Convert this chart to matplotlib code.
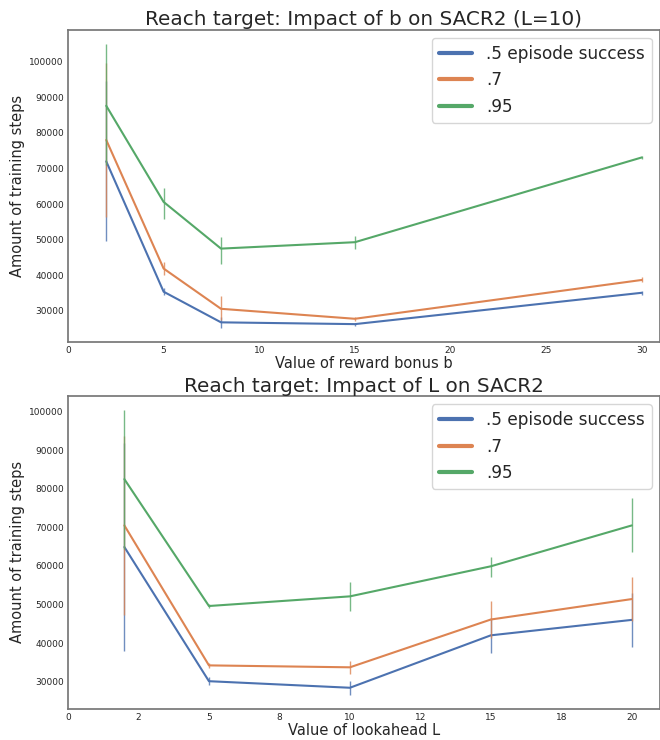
import matplotlib
matplotlib.use("Agg")
import matplotlib.pyplot as plt
import seaborn as sns
from matplotlib.ticker import FuncFormatter

sns.set_theme(style="white", palette="deep")
plt.rcParams["font.family"] = ["DejaVu Sans"]

series_labels = [".5 episode success", ".7", ".95"]

# top panel: impact of reward bonus b
b_values = [2, 5, 8, 15, 30]
b_mean = [
    [72000, 35400, 26800, 26300, 35100],
    [78000, 41900, 30600, 27800, 38700],
    [87600, 60600, 47500, 49300, 73100],
]
b_low = [
    [49500, 34500, 25300, 25900, 34600],
    [56500, 40000, 27500, 27300, 38000],
    [71000, 55900, 43100, 47400, 72600],
]
b_high = [
    [94500, 36400, 28300, 26700, 35700],
    [99500, 43700, 34200, 28300, 39500],
    [105000, 64500, 50700, 51100, 73600],
]

# bottom panel: impact of lookahead L
l_values = [2, 5, 10, 15, 20]
l_mean = [
    [64900, 30100, 28400, 42000, 46000],
    [70500, 34200, 33700, 46100, 51400],
    [82500, 49600, 52100, 59900, 70500],
]
l_low = [
    [38000, 29200, 26600, 37400, 38900],
    [47300, 33600, 32000, 41400, 45700],
    [64500, 49200, 48300, 57100, 63600],
]
l_high = [
    [91800, 31200, 30200, 46600, 53100],
    [93700, 34800, 35300, 50800, 57100],
    [100400, 50000, 55700, 62300, 77500],
]

colors = sns.color_palette("deep")

fig = plt.figure(figsize=(6.6, 7.4), dpi=100)
ax1 = fig.add_axes([0.103, 0.538, 0.897, 0.422])
ax2 = fig.add_axes([0.103, 0.042, 0.897, 0.423])


def draw(ax, xs, means, lows, highs, title, xlabel, xmax):
    for i, lab in enumerate(series_labels):
        m = means[i]
        yerr = [[m[j] - lows[i][j] for j in range(len(m))],
                [highs[i][j] - m[j] for j in range(len(m))]]
        ax.plot(xs, m, color=colors[i], lw=1.5, label=lab)
        ax.errorbar(xs, m, yerr=yerr, fmt="none", ecolor=colors[i],
                    elinewidth=1.0, alpha=0.8, capsize=0)
    ax.set_xlim(0, xmax)
    ax.set_title(title, fontsize=14.4, pad=3)
    ax.set_xlabel(xlabel, fontsize=10.5, labelpad=1)
    ax.set_ylabel("Amount of training steps", fontsize=10.5, labelpad=3)
    ax.tick_params(labelsize=6.5, length=0, pad=3)
    for s in ax.spines.values():
        s.set_color("#777777")
    leg = ax.legend(loc="upper right", fontsize=12.2, frameon=True,
                    handlelength=2.0, borderaxespad=0.5)
    for h in leg.get_lines():
        h.set_linewidth(3)


draw(ax1, b_values, b_mean, b_low, b_high,
     "Reach target: Impact of b on SACR2 (L=10)",
     "Value of reward bonus b", 30.95)
ax1.set_xticks([0, 5, 10, 15, 20, 25, 30])

draw(ax2, l_values, l_mean, l_low, l_high,
     "Reach target: Impact of L on SACR2",
     "Value of lookahead L", 21.0)
ax2.set_xticks([0, 2.5, 5, 7.5, 10, 12.5, 15, 17.5, 20])
ax2.xaxis.set_major_formatter(FuncFormatter(lambda v, p: f"{v:.0f}"))

fig.savefig("out.png", dpi=100)
